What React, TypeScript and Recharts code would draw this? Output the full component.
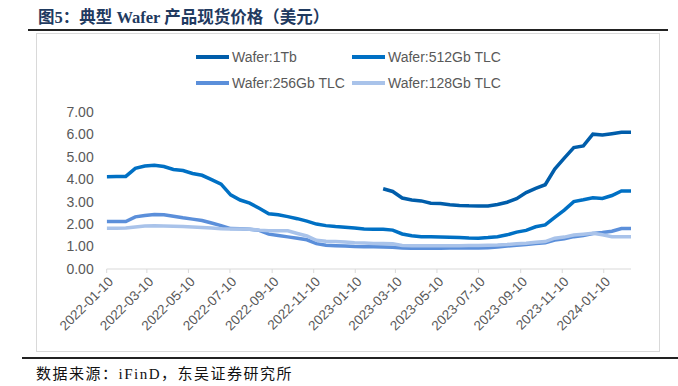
import React from 'react';
import { LineChart, Line, XAxis, YAxis } from 'recharts';

// biweekly sample dates
const dates = [
  '2022-01-10', '2022-01-24', '2022-02-07', '2022-02-21', '2022-03-07', '2022-03-21',
  '2022-04-04', '2022-04-18', '2022-05-02', '2022-05-16', '2022-05-30', '2022-06-13',
  '2022-06-27', '2022-07-11', '2022-07-25', '2022-08-08', '2022-08-22', '2022-09-05',
  '2022-09-19', '2022-10-03', '2022-10-17', '2022-10-31', '2022-11-14', '2022-11-28',
  '2022-12-12', '2022-12-26', '2023-01-09', '2023-01-23', '2023-02-06', '2023-02-20',
  '2023-03-06', '2023-03-20', '2023-04-03', '2023-04-17', '2023-05-01', '2023-05-15',
  '2023-05-29', '2023-06-12', '2023-06-26', '2023-07-10', '2023-07-24', '2023-08-07',
  '2023-08-21', '2023-09-04', '2023-09-18', '2023-10-02', '2023-10-16', '2023-10-30',
  '2023-11-13', '2023-11-27', '2023-12-11', '2023-12-25', '2024-01-08', '2024-01-22',
  '2024-02-05', '2024-02-19',
];

const wafer1Tb: (number | null)[] = [
  null, null, null, null, null, null, null, null, null, null,
  null, null, null, null, null, null, null, null, null, null,
  null, null, null, null, null, null, null, null, null, 3.57,
  3.45, 3.16, 3.07, 3.03, 2.93, 2.91, 2.86, 2.83, 2.81, 2.8,
  2.8, 2.87, 2.97, 3.13, 3.4, 3.59, 3.75, 4.45, 4.93, 5.4,
  5.48, 6.0, 5.96, 6.02, 6.08, 6.08,
];

const wafer512: number[] = [
  4.11, 4.12, 4.12, 4.48, 4.58, 4.62, 4.56, 4.43, 4.38, 4.25,
  4.17, 3.98, 3.78, 3.3, 3.07, 2.93, 2.7, 2.46, 2.41, 2.33,
  2.24, 2.13, 2.0, 1.93, 1.89, 1.86, 1.82, 1.78, 1.77, 1.77,
  1.73, 1.56, 1.48, 1.44, 1.43, 1.42, 1.41, 1.4, 1.38, 1.37,
  1.4, 1.44, 1.52, 1.64, 1.72, 1.88, 1.96, 2.3, 2.62, 3.0,
  3.08, 3.17, 3.14, 3.27, 3.47, 3.47,
];

const wafer256: number[] = [
  2.11, 2.11, 2.11, 2.32, 2.38, 2.42, 2.41, 2.35, 2.28, 2.22,
  2.16, 2.05, 1.93, 1.8, 1.79, 1.77, 1.72, 1.55, 1.49, 1.43,
  1.37, 1.3, 1.13, 1.06, 1.04, 1.02, 1.0, 0.99, 0.99, 0.98,
  0.97, 0.93, 0.92, 0.92, 0.92, 0.92, 0.93, 0.93, 0.93, 0.93,
  0.95, 0.98, 1.02, 1.06, 1.09, 1.13, 1.17, 1.29, 1.35, 1.44,
  1.49, 1.58, 1.62, 1.68, 1.8, 1.8,
];

const wafer128: number[] = [
  1.81, 1.81, 1.82, 1.87, 1.91, 1.92, 1.91, 1.9, 1.89, 1.87,
  1.85, 1.82, 1.79, 1.78, 1.78, 1.77, 1.73, 1.7, 1.7, 1.7,
  1.58, 1.47, 1.28, 1.23, 1.22, 1.2, 1.17, 1.16, 1.14, 1.13,
  1.12, 1.05, 1.03, 1.03, 1.03, 1.04, 1.04, 1.04, 1.05, 1.05,
  1.06, 1.07, 1.09, 1.12, 1.15, 1.19, 1.22, 1.37, 1.42, 1.51,
  1.55, 1.59, 1.52, 1.44, 1.44, 1.44,
];

const tickDates = [
  '2022-01-10', '2022-03-10', '2022-05-10', '2022-07-10', '2022-09-10', '2022-11-10',
  '2023-01-10', '2023-03-10', '2023-05-10', '2023-07-10', '2023-09-10', '2023-11-10',
  '2024-01-10',
];

const yTicks = [0, 1, 2, 3, 4, 5, 6, 7];

const series = [
  { key: 'tb1', name: 'Wafer:1Tb', color: '#005DAA' },
  { key: 'gb512', name: 'Wafer:512Gb TLC', color: '#0070C4' },
  { key: 'gb256', name: 'Wafer:256Gb TLC', color: '#5B8FDA' },
  { key: 'gb128', name: 'Wafer:128Gb TLC', color: '#A9C3EA' },
];

const toTime = (s: string) => Date.parse(s + 'T00:00:00Z');

const data = dates.map((d, i) => ({
  t: toTime(d),
  tb1: wafer1Tb[i],
  gb512: wafer512[i],
  gb256: wafer256[i],
  gb128: wafer128[i],
}));

const fmtDate = (v: number) => new Date(v).toISOString().slice(0, 10);

const DateTick = (props: any) => {
  const { x, y, payload } = props;
  return (
    <g transform={`translate(${x + 4},${y + 6})`}>
      <text
        transform="rotate(-45)"
        textAnchor="end"
        dy="0.35em"
        fill="#595959"
        fontSize={13.5}
        fontFamily="'Liberation Sans', Arial, sans-serif"
      >
        {fmtDate(payload.value)}
      </text>
    </g>
  );
};

const legendPos = [
  { left: 196, top: 48 },
  { left: 352, top: 48 },
  { left: 196, top: 74 },
  { left: 352, top: 74 },
];

export default function App() {
  return (
    <div
      style={{
        position: 'absolute',
        left: 0,
        top: 0,
        width: 678,
        height: 386,
        background: '#fff',
        overflow: 'hidden',
      }}
    >
      <div
        style={{
          position: 'absolute',
          left: 38,
          top: 4,
          fontSize: 16.5,
          fontWeight: 'bold',
          color: '#1f3a60',
          fontFamily: "'Liberation Serif', 'Times New Roman', 'Noto Sans CJK SC', serif",
          whiteSpace: 'nowrap',
        }}
      >
        图5：典型 Wafer 产品现货价格（美元）
      </div>
      <div style={{ position: 'absolute', left: 28, top: 29, width: 640, height: 2, background: '#222' }} />
      <div
        style={{
          position: 'absolute',
          left: 36,
          top: 33,
          width: 622,
          height: 317,
          border: '1px solid #d9d9d9',
        }}
      />
      <LineChart
        width={678}
        height={386}
        data={data}
        margin={{ top: 111.7, right: 47, left: 0, bottom: 0 }}
        style={{ position: 'absolute', left: 0, top: 0 }}
      >
        <XAxis
          dataKey="t"
          type="number"
          scale="time"
          domain={[toTime('2022-01-10'), toTime('2024-02-19')]}
          ticks={tickDates.map(toTime)}
          tick={<DateTick />}
          height={117}
          interval={0}
          stroke="#d9d9d9"
          tickSize={4}
          tickMargin={0}
          allowDataOverflow
        />
        <YAxis
          domain={[0, 7]}
          ticks={yTicks}
          width={106.7}
          axisLine={false}
          tickLine={false}
          tickSize={0}
          tickMargin={13}
          tickFormatter={(v: number) => v.toFixed(2)}
          tick={{ fill: '#595959', fontSize: 14, fontFamily: "'Liberation Sans', Arial, sans-serif" }}
        />
        {series.map((s) => (
          <Line
            key={s.key}
            type="linear"
            dataKey={s.key}
            name={s.name}
            stroke={s.color}
            strokeWidth={3.5}
            dot={false}
            activeDot={false}
            isAnimationActive={false}
            connectNulls={false}
          />
        ))}
      </LineChart>
      {series.map((s, i) => (
        <div
          key={s.key}
          style={{
            position: 'absolute',
            left: legendPos[i].left,
            top: legendPos[i].top,
            height: 18,
            display: 'flex',
            alignItems: 'center',
            fontSize: 14,
            color: '#595959',
            fontFamily: "'Liberation Sans', Arial, sans-serif",
            whiteSpace: 'nowrap',
          }}
        >
          <span style={{ display: 'inline-block', width: 33, height: 4, background: s.color, marginRight: 3 }} />
          {s.name}
        </div>
      ))}
      <div style={{ position: 'absolute', left: 22, top: 357, width: 656, height: 2, background: '#222' }} />
      <div
        style={{
          position: 'absolute',
          left: 36,
          top: 362,
          fontSize: 15,
          letterSpacing: 1.5,
          color: '#111',
          fontFamily: "'Liberation Serif', 'Times New Roman', 'Noto Sans CJK SC', serif",
          whiteSpace: 'nowrap',
        }}
      >
        数据来源：iFinD，东吴证券研究所
      </div>
    </div>
  );
}
